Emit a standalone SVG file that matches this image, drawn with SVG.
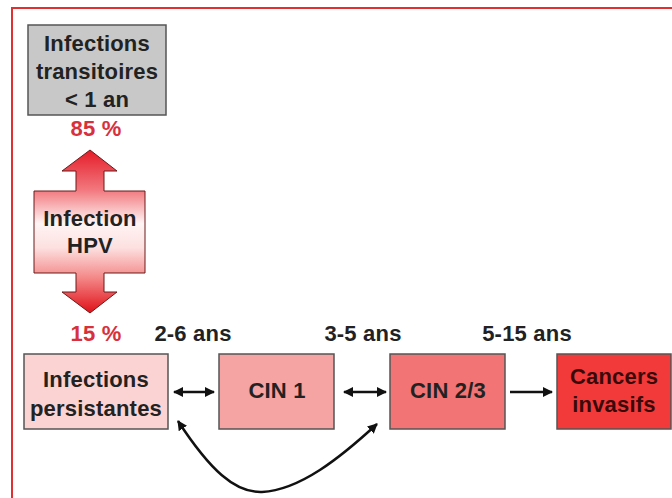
<svg xmlns="http://www.w3.org/2000/svg" width="672" height="498" viewBox="0 0 672 498">
<defs>
<linearGradient id="hpv" gradientUnits="userSpaceOnUse" x1="0" y1="150" x2="0" y2="313">
<stop offset="0" stop-color="#e41c28"/>
<stop offset="0.25" stop-color="#f27a80"/>
<stop offset="0.45" stop-color="#fff4f4"/>
<stop offset="0.6" stop-color="#fde0e0"/>
<stop offset="0.78" stop-color="#f48a8a"/>
<stop offset="1" stop-color="#e01018"/>
</linearGradient>
<marker id="ah" viewBox="0 0 10 10" refX="9" refY="5" markerWidth="4" markerHeight="4" orient="auto-start-reverse" markerUnits="strokeWidth">
<path d="M0,0 L10,5 L0,10 z" fill="#111"/>
</marker>
<style>
text{font-family:"Liberation Sans",Arial,sans-serif;font-weight:bold;font-size:22px;letter-spacing:0.2px;text-anchor:middle;fill:#222}
.red{fill:#d8303c}
.box{stroke:#555;stroke-width:1.5}
.conn{fill:none;stroke:#111;stroke-width:2.5}
</style>
</defs>
<rect width="672" height="498" fill="#fff"/>
<path d="M12,498 V8 H672" fill="none" stroke="#e03030" stroke-width="2"/>
<g id="transitoires">
<rect class="box" x="28" y="25" width="138" height="90" fill="#c8c8c8"/>
<text x="97" y="51">Infections</text>
<text x="97" y="79">transitoires</text>
<text x="97" y="107">&lt; 1 an</text>
</g>
<g id="p85"><text class="red" x="96" y="136">85 %</text></g>
<g id="hpvnode">
<polygon points="90,150 117,171 104,171 104,191 145,191 145,273 104,273 104,292 117,292 90,313 62,292 76,292 76,273 34,273 34,191 76,191 76,171 62,171" fill="url(#hpv)" stroke="#6a1a1a" stroke-width="1"/>
<text x="90" y="226">Infection</text>
<text x="90" y="253">HPV</text>
</g>
<g id="p15"><text class="red" x="96" y="341">15 %</text></g>
<g id="labels">
<text x="193" y="341">2-6 ans</text>
<text x="363" y="341">3-5 ans</text>
<text x="527" y="341">5-15 ans</text>
</g>
<g id="persistantes">
<rect class="box" x="24" y="354" width="144" height="75" fill="#fbd3d3"/>
<text x="96" y="387">Infections</text>
<text x="96" y="416">persistantes</text>
</g>
<g id="cin1">
<rect class="box" x="219" y="354" width="115" height="75" fill="#f5a3a3"/>
<text x="277" y="398">CIN 1</text>
</g>
<g id="cin23">
<rect class="box" x="390" y="354" width="115" height="75" fill="#f27474"/>
<text x="448" y="398">CIN 2/3</text>
</g>
<g id="cancers">
<rect class="box" x="557" y="354" width="114" height="75" fill="#f23a3a"/>
<text x="614" y="384" style="fill:#3a0a0a">Cancers</text>
<text x="614" y="412" style="fill:#3a0a0a">invasifs</text>
</g>
<g id="connectors">
<line class="conn" x1="174" y1="392" x2="214" y2="392" marker-start="url(#ah)" marker-end="url(#ah)"/>
<line class="conn" x1="344" y1="392" x2="386" y2="392" marker-start="url(#ah)" marker-end="url(#ah)"/>
<line class="conn" x1="510" y1="392" x2="552" y2="392" marker-end="url(#ah)"/>
<path class="conn" d="M178,421 C210,470 235,493 262,492 C300,490 340,458 377,424" marker-start="url(#ah)" marker-end="url(#ah)"/>
</g>
</svg>
